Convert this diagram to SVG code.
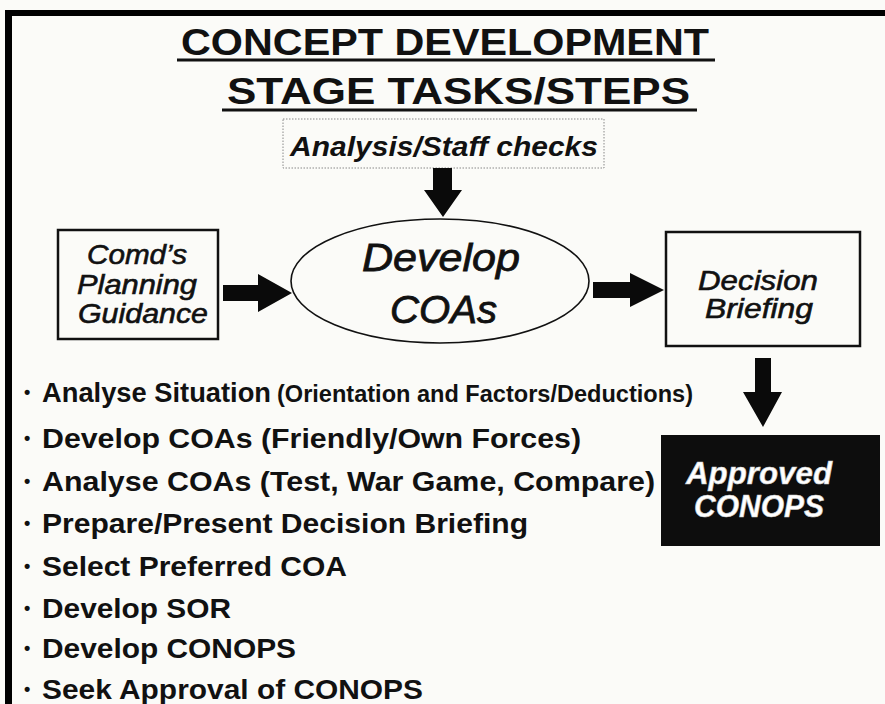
<svg xmlns="http://www.w3.org/2000/svg" width="885" height="704" viewBox="0 0 885 704">
  <defs>
    <style>
      text { font-family: "Liberation Sans Narrow", "Arial Narrow", "Liberation Sans", Arial, sans-serif; fill: #111; }
      .title { font-size: 37px; font-weight: bold; }
      .node { font-size: 28px; font-style: italic; stroke: #111; stroke-width: 0.6; }
      .big { font-size: 39px; font-style: italic; stroke: #111; stroke-width: 0.8; }
      .check { font-size: 27px; font-style: italic; font-weight: bold; }
      .item { font-size: 28px; font-weight: bold; }
      .sub { font-size: 23px; font-weight: bold; }
      .dot { font-size: 18px; font-weight: bold; }
      .box { fill: none; stroke: #111; stroke-width: 2.5; }
      .arrow { fill: #0a0a0a; stroke: none; }
      .white { fill: #fff; font-size: 32px; font-style: italic; font-weight: bold; stroke: #ccc; stroke-width: 0.6; }
    </style>
  </defs>

  <!-- page -->
  <rect x="0" y="0" width="885" height="704" fill="#fbfbf8"/>
  <!-- slide frame (top and left edges) -->
  <rect x="5" y="10" width="880" height="6" fill="#000"/>
  <rect x="5" y="10" width="7" height="694" fill="#000"/>

  <!-- heading -->
  <g id="heading">
    <text class="title" x="181" y="55" textLength="528" lengthAdjust="spacingAndGlyphs">CONCEPT DEVELOPMENT</text>
    <rect x="177" y="58.5" width="538" height="3" fill="#111"/>
    <text class="title" x="227" y="104" font-size="38" textLength="463" lengthAdjust="spacingAndGlyphs">STAGE TASKS/STEPS</text>
    <rect x="222" y="108.5" width="475" height="3" fill="#111"/>
  </g>

  <!-- nodes -->
  <g id="analysis">
    <rect x="283" y="119" width="321" height="49" fill="none" stroke="#888" stroke-width="1" stroke-dasharray="1.5 1.5"/>
    <text class="check" x="290" y="156" textLength="308" lengthAdjust="spacingAndGlyphs">Analysis/Staff checks</text>
  </g>

  <g id="guidance">
    <rect class="box" x="58" y="230" width="160" height="109"/>
    <text class="node" x="87" y="264" textLength="100" lengthAdjust="spacingAndGlyphs">Comd’s</text>
    <text class="node" x="77" y="294" textLength="120" lengthAdjust="spacingAndGlyphs">Planning</text>
    <text class="node" x="78" y="323" textLength="130" lengthAdjust="spacingAndGlyphs">Guidance</text>
  </g>

  <g id="develop">
    <ellipse cx="440" cy="281" rx="149" ry="62" fill="none" stroke="#111" stroke-width="1.6"/>
    <text class="big" x="362" y="271" textLength="158" lengthAdjust="spacingAndGlyphs">Develop</text>
    <text class="big" x="390" y="323" textLength="107" lengthAdjust="spacingAndGlyphs">COAs</text>
  </g>

  <g id="decision">
    <rect class="box" x="666" y="232" width="194" height="114"/>
    <text class="node" x="698" y="290" font-size="27" textLength="120" lengthAdjust="spacingAndGlyphs">Decision</text>
    <text class="node" x="705" y="318" font-size="27" textLength="108" lengthAdjust="spacingAndGlyphs">Briefing</text>
  </g>

  <g id="approved">
    <rect x="661" y="435" width="219" height="111" fill="#0d0d0d"/>
    <text class="white" x="686" y="484" textLength="146" lengthAdjust="spacingAndGlyphs">Approved</text>
    <text class="white" x="694" y="517" textLength="130" lengthAdjust="spacingAndGlyphs">CONOPS</text>
  </g>

  <!-- connectors -->
  <g id="connectors">
    <path class="arrow" d="M433,168 H452 V190 H462 L443,217 L424,190 H433 Z"/>
    <path class="arrow" d="M223,285 H258 V274 L292,293 L258,312 V301 H223 Z"/>
    <path class="arrow" d="M593,282 H630 V273 L664,290 L630,307 V298 H593 Z"/>
    <path class="arrow" d="M755,358 H771 V392 H782 L763,427 L743,392 H755 Z"/>
  </g>

  <!-- task list -->
  <g id="tasks">
    <text class="dot" x="24" y="398">•</text>
    <text class="item" x="42" y="402" textLength="229" lengthAdjust="spacingAndGlyphs">Analyse Situation</text>
    <text class="sub" x="277" y="402" textLength="416" lengthAdjust="spacingAndGlyphs">(Orientation and Factors/Deductions)</text>

    <text class="dot" x="24" y="444">•</text>
    <text class="item" x="42" y="448" textLength="539" lengthAdjust="spacingAndGlyphs">Develop  COAs  (Friendly/Own Forces)</text>

    <text class="dot" x="24" y="487">•</text>
    <text class="item" x="42" y="491" textLength="613" lengthAdjust="spacingAndGlyphs">Analyse  COAs  (Test, War Game, Compare)</text>

    <text class="dot" x="24" y="529">•</text>
    <text class="item" x="42" y="533" textLength="486" lengthAdjust="spacingAndGlyphs">Prepare/Present Decision Briefing</text>

    <text class="dot" x="24" y="572">•</text>
    <text class="item" x="42" y="576" textLength="305" lengthAdjust="spacingAndGlyphs">Select Preferred COA</text>

    <text class="dot" x="24" y="614">•</text>
    <text class="item" x="42" y="618" textLength="189" lengthAdjust="spacingAndGlyphs">Develop SOR</text>

    <text class="dot" x="24" y="654">•</text>
    <text class="item" x="42" y="658" textLength="254" lengthAdjust="spacingAndGlyphs">Develop CONOPS</text>

    <text class="dot" x="24" y="695">•</text>
    <text class="item" x="42" y="699" textLength="381" lengthAdjust="spacingAndGlyphs">Seek Approval of CONOPS</text>
  </g>
</svg>
